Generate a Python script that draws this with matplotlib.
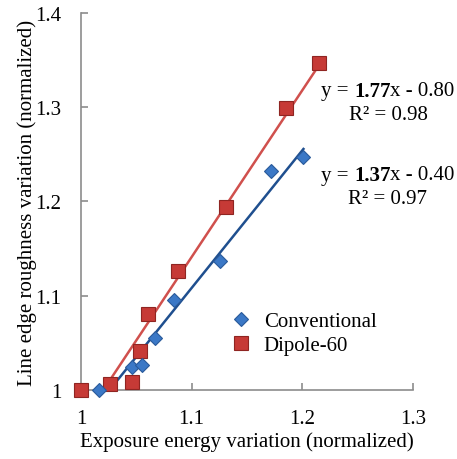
import numpy as np
import matplotlib
matplotlib.use("Agg")
from matplotlib import pyplot as plt

plt.rcParams['font.family'] = ['Liberation Serif', 'DejaVu Serif']

# Conventional series
conv_x = [1.016, 1.046, 1.055, 1.067, 1.084, 1.126, 1.172, 1.201]
conv_y = [1.000, 1.024, 1.027, 1.055, 1.096, 1.137, 1.232, 1.247]

# Dipole-60 series
dip_x = [1.000, 1.026, 1.046, 1.053, 1.061, 1.088, 1.131, 1.185, 1.215]
dip_y = [1.000, 1.006, 1.008, 1.041, 1.081, 1.126, 1.194, 1.299, 1.347]

labels = ['Conventional', 'Dipole-60']
equations = [('1.37', '0.40', '0.97'), ('1.77', '0.80', '0.98')]

fig = plt.figure(figsize=(4.57, 4.6), dpi=100)
ax = fig.add_axes([0.1772, 0.15, 0.7265, 0.8196])

blue = '#3b78c6'
blue_edge = '#2a5a9a'
red = '#c63a36'
red_edge = '#8f2522'

# trendlines (linear fit over each series range)
for xs, ys, col in [(conv_x, conv_y, '#1f4f8f'), (dip_x, dip_y, '#d0504d')]:
    p = np.polyfit(xs, ys, 1)
    tx = np.linspace(min(xs), max(xs), 50)
    ax.plot(tx, np.polyval(p, tx), color=col, lw=1.8, zorder=2)

ax.plot(conv_x, conv_y, 'D', ms=7, color=blue, mec=blue_edge, mew=0.8,
        label=labels[0], clip_on=False, zorder=4, linestyle='none')
ax.plot(dip_x, dip_y, 's', ms=9.5, color=red, mec=red_edge, mew=0.8,
        label=labels[1], clip_on=False, zorder=3, linestyle='none')

ax.set_xlim(1, 1.3)
ax.set_ylim(1, 1.4)
ax.set_xticks([1, 1.1, 1.2, 1.3])
ax.set_xticklabels(['1', '1.1', '1.2', '1.3'])
ax.set_yticks([1, 1.1, 1.2, 1.3, 1.4])
ax.set_yticklabels(['1', '1.1', '1.2', '1.3', '1.4'])

for s in ['top', 'right']:
    ax.spines[s].set_visible(False)
for s in ['left', 'bottom']:
    ax.spines[s].set_color('#8c8c8c')
    ax.spines[s].set_linewidth(1.2)
ax.tick_params(direction='in', length=5, width=1.2, color='#8c8c8c',
               labelsize=15, pad=14)

ax.set_xlabel('Exposure energy variation (normalized)', fontsize=15, labelpad=2)
ax.set_ylabel('Line edge roughness variation (normalized)', fontsize=15, labelpad=-1)

# equation labels, pieces laid out left to right, centred at x = 388 px
renderer = fig.canvas.get_renderer()
for (slope, icpt, r2), ypos in zip(equations, [176, 92]):
    fy = 1 - ypos / 460
    pieces = [('y = ', 'normal'), (slope, 'bold'), ('x - ' + icpt, 'normal')]
    texts = []
    for s, w in pieces:
        t = fig.text(0, fy, s, ha='left', va='center', fontsize=15, fontweight=w)
        texts.append(t)
    widths = [t.get_window_extent(renderer).width for t in texts]
    x0 = 388 - sum(widths) / 2
    for t, w in zip(texts, widths):
        t.set_x(x0 / 457)
        x0 += w
    fig.text(388 / 457, fy - 24 / 460, 'R² = ' + r2,
             ha='center', va='center', fontsize=15)

ax.legend(loc='upper left', bbox_to_anchor=(0.425, 0.23), frameon=False,
          prop={'family': 'Liberation Serif', 'size': 15},
          handletextpad=0.6, labelspacing=0.2,
          handlelength=1.0, borderaxespad=0)

fig.savefig('out.png', dpi=100)
